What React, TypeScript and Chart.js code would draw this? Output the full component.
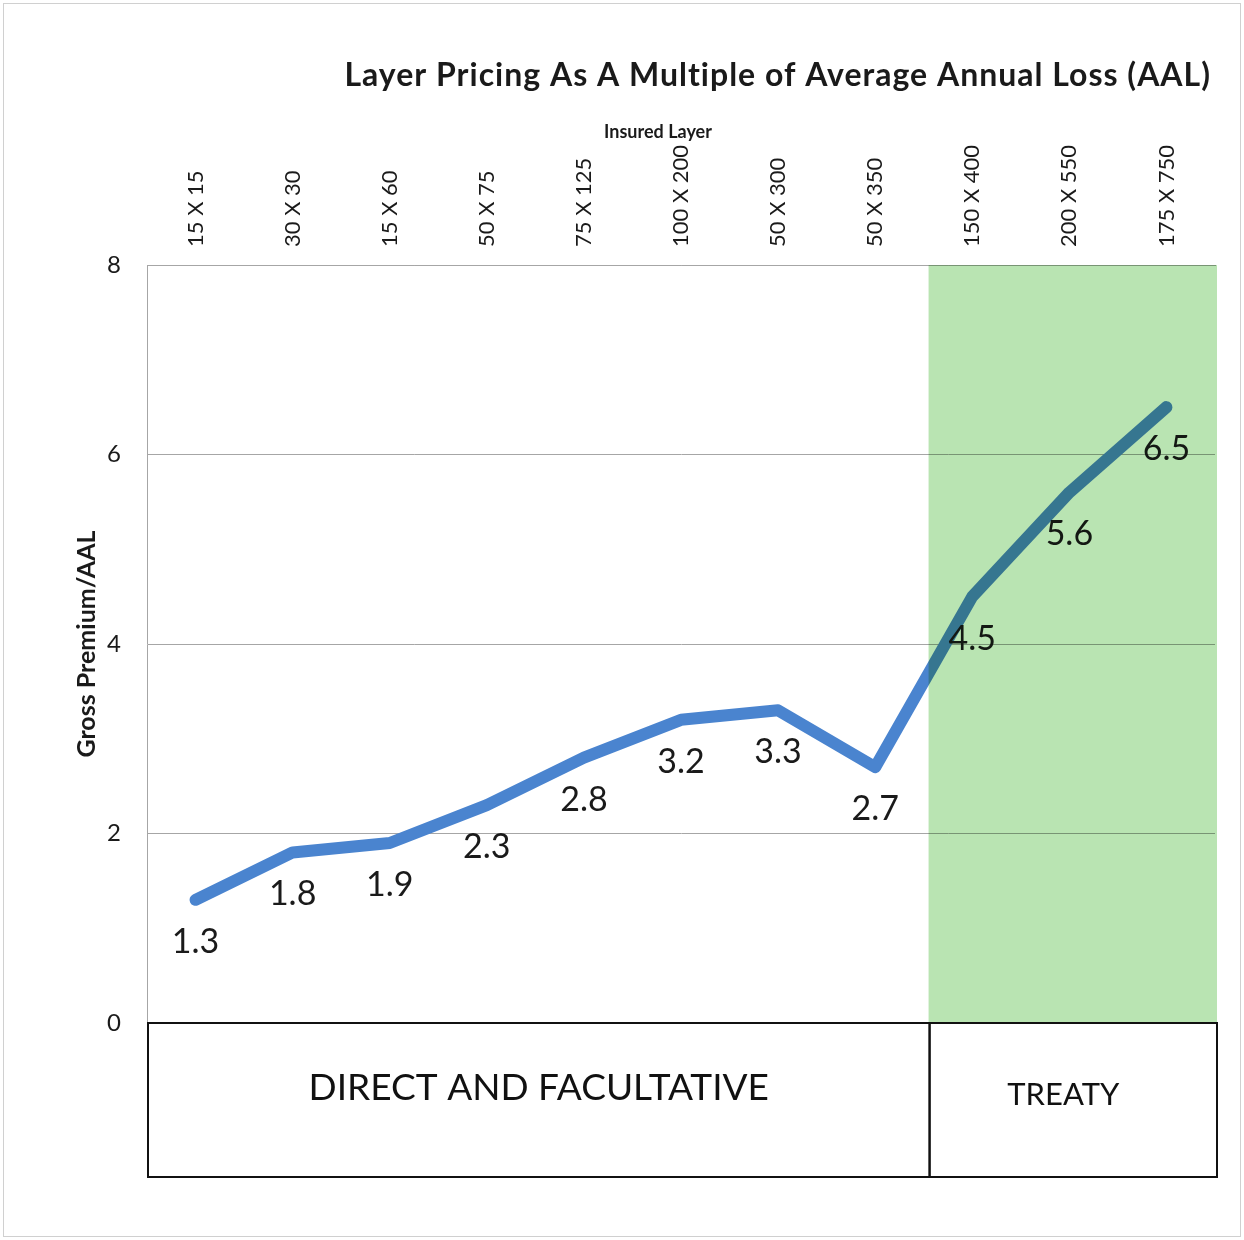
import React, { useEffect, useRef } from 'react';
import { Chart, registerables } from 'chart.js';

Chart.register(...registerables);

const layers = ['15 X 15', '30 X 30', '15 X 60', '50 X 75', '75 X 125', '100 X 200', '50 X 300', '50 X 350', '150 X 400', '200 X 550', '175 X 750'];
const multiples = [1.3, 1.8, 1.9, 2.3, 2.8, 3.2, 3.3, 2.7, 4.5, 5.6, 6.5];
const yMin = 0;
const yMax = 8;
const yStep = 2;
const chartTitle = 'Layer Pricing As A Multiple of Average Annual Loss (AAL)';
const xTitle = 'Insured Layer';
const yTitle = 'Gross Premium/AAL';
const segmentLabels = ['DIRECT AND FACULTATIVE', 'TREATY'];
const treatyStart = 7.55; // boundary (in category index units) where TREATY begins

const FONT = 'Lato, "Open Sans", sans-serif';

const decorPlugin = {
  id: 'decor',
  beforeDraw(chart: any) {
    const { ctx, width, height } = chart;
    ctx.save();
    ctx.fillStyle = '#ffffff';
    ctx.fillRect(0, 0, width, height);
    ctx.strokeStyle = '#d0d0d0';
    ctx.lineWidth = 1;
    ctx.strokeRect(3.5, 3.5, width - 7, height - 7);
    ctx.restore();
  },
  afterDatasetsDraw(chart: any) {
    const { ctx, chartArea } = chart;
    const xs = chart.scales.x;
    const ys = chart.scales.y;
    ctx.save();
    // category labels (rotated, centred on categories)
    ctx.font = `22px ${FONT}`;
    ctx.fillStyle = '#1a1a1a';
    ctx.textAlign = 'left';
    ctx.textBaseline = 'middle';
    layers.forEach((lab, i) => {
      const px = xs.getPixelForValue(i);
      ctx.save();
      ctx.translate(px, chartArea.top - 18);
      ctx.rotate(-Math.PI / 2);
      ctx.fillText(lab, 0, 0);
      ctx.restore();
    });
    // data labels
    ctx.font = `34px ${FONT}`;
    ctx.fillStyle = '#1a1a1a';
    ctx.textAlign = 'center';
    ctx.textBaseline = 'middle';
    multiples.forEach((v, i) => {
      const px = xs.getPixelForValue(i);
      const py = ys.getPixelForValue(v);
      ctx.fillText(v.toFixed(1), px, py + 42);
    });
    // green treaty overlay (multiplied over line, labels and grid)
    const gx = xs.getPixelForValue(treatyStart);
    ctx.globalCompositeOperation = 'multiply';
    ctx.fillStyle = 'rgb(185,228,178)';
    ctx.fillRect(gx, chartArea.top, chartArea.right + 2 - gx, chartArea.bottom - chartArea.top);
    ctx.globalCompositeOperation = 'source-over';
    ctx.restore();
  },
  afterDraw(chart: any) {
    const { ctx, chartArea } = chart;
    const xs = chart.scales.x;
    ctx.save();
    // main title
    ctx.fillStyle = '#1a1a1a';
    ctx.font = `bold 32px ${FONT}`;
    (ctx as any).letterSpacing = '1px';
    ctx.textAlign = 'right';
    ctx.textBaseline = 'middle';
    ctx.fillText(chartTitle, chartArea.right - 4, 76);
    (ctx as any).letterSpacing = '0px';
    // x title
    ctx.font = `bold 18px ${FONT}`;
    ctx.textAlign = 'center';
    ctx.fillText(xTitle, (chartArea.left + chartArea.right) / 2 - 23, 132);
    // y title
    ctx.save();
    ctx.translate(87, (chartArea.top + chartArea.bottom) / 2);
    ctx.rotate(-Math.PI / 2);
    ctx.font = `bold 25px ${FONT}`;
    ctx.fillText(yTitle, 0, 0);
    ctx.restore();
    // segment boxes
    const top = chartArea.bottom;
    const bottom = top + 154;
    const gx = xs.getPixelForValue(treatyStart);
    const boxes = [
      { x0: chartArea.left + 1, x1: gx + 1, label: segmentLabels[0], size: 37, dx: 0, dy: -12 },
      { x0: gx + 1, x1: chartArea.right + 2, label: segmentLabels[1], size: 31, dx: -10, dy: -5 },
    ];
    ctx.strokeStyle = '#111';
    ctx.lineWidth = 2;
    boxes.forEach((b) => {
      ctx.strokeRect(b.x0, top, b.x1 - b.x0, bottom - top);
      ctx.font = `${b.size}px ${FONT}`;
      ctx.fillStyle = '#111';
      ctx.textAlign = 'center';
      ctx.textBaseline = 'middle';
      ctx.fillText(b.label, (b.x0 + b.x1) / 2 + b.dx, (top + bottom) / 2 + b.dy);
    });
    ctx.restore();
  },
};

export default function App() {
  const canvasRef = useRef<HTMLCanvasElement | null>(null);
  useEffect(() => {
    if (!canvasRef.current) return;
    const chart = new Chart(canvasRef.current, {
      type: 'line',
      data: {
        labels: layers,
        datasets: [
          {
            data: multiples,
            borderColor: '#4a84cf',
            borderWidth: 12,
            borderCapStyle: 'round',
            borderJoinStyle: 'round',
            pointRadius: 0,
            tension: 0,
            fill: false,
          },
        ],
      },
      options: {
        responsive: false,
        animation: false,
        layout: { padding: { top: 0, left: 0, right: 29, bottom: 217 } },
        plugins: { legend: { display: false }, title: { display: false }, tooltip: { enabled: false } },
        scales: {
          x: {
            position: 'top',
            offset: true,
            grid: { display: false, drawTicks: false },
            border: { display: true, color: '#a6a6a6' },
            ticks: { display: false, autoSkip: false },
            afterFit: (s: any) => {
              s.height = 265;
            },
          },
          y: {
            min: yMin,
            max: yMax,
            ticks: { stepSize: yStep, padding: 26, color: '#1a1a1a', font: { family: FONT, size: 24 } },
            grid: { color: '#a6a6a6', lineWidth: 1, drawTicks: false },
            border: { display: true, color: '#a6a6a6' },
            afterFit: (s: any) => {
              s.width = 147;
            },
          },
        },
      },
      plugins: [decorPlugin],
    });
    return () => chart.destroy();
  }, []);
  return (
    <div style={{ position: 'absolute', left: 0, top: 0, width: 1244, height: 1240 }}>
      <canvas ref={canvasRef} width={1244} height={1240} />
    </div>
  );
}
